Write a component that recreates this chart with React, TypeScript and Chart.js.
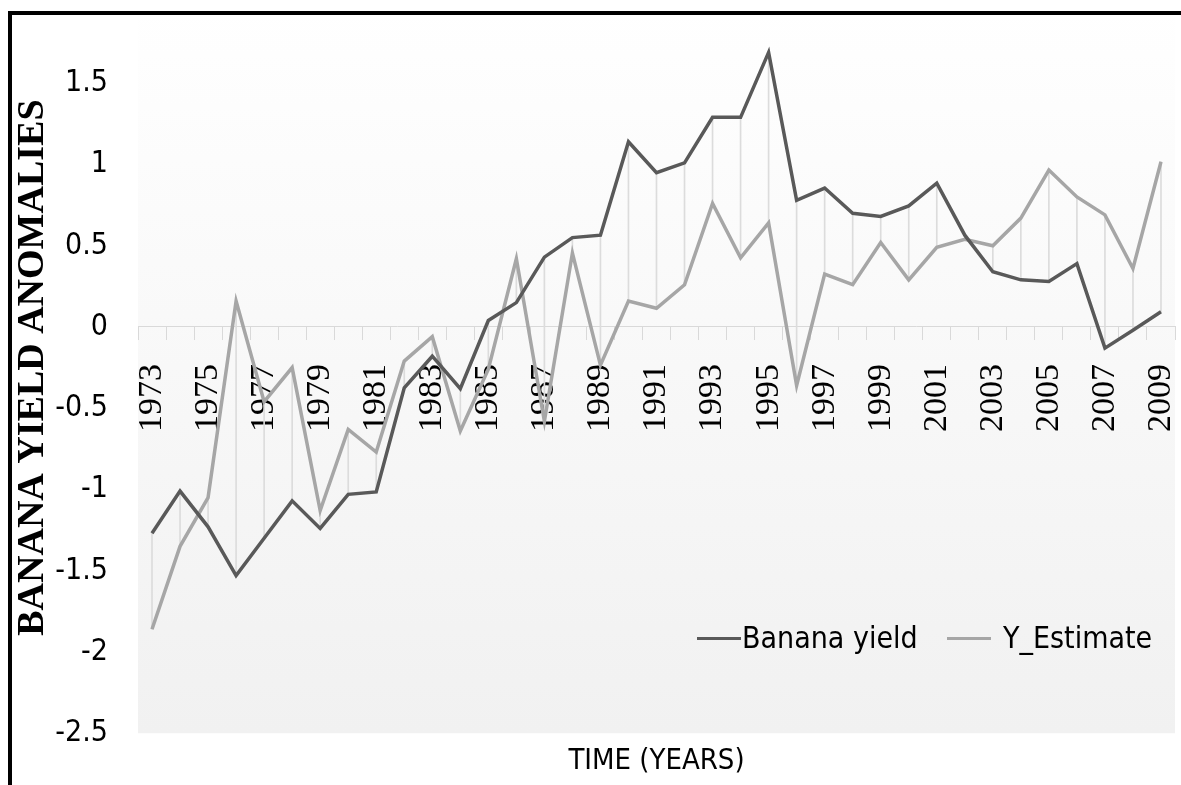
import React, { useEffect, useRef } from 'react';
import { Chart, registerables } from 'chart.js';

Chart.register(...registerables);

const years = [
  '1973', '1974', '1975', '1976', '1977', '1978', '1979', '1980', '1981', '1982',
  '1983', '1984', '1985', '1986', '1987', '1988', '1989', '1990', '1991', '1992',
  '1993', '1994', '1995', '1996', '1997', '1998', '1999', '2000', '2001', '2002',
  '2003', '2004', '2005', '2006', '2007', '2008', '2009',
];

const bananaYield = [
  -1.27, -1.01, -1.23, -1.53, -1.3, -1.07, -1.24, -1.03, -1.015, -0.375,
  -0.18, -0.38, 0.04, 0.15, 0.43, 0.55, 0.565, 1.14, 0.95, 1.01,
  1.29, 1.29, 1.69, 0.78, 0.855, 0.7, 0.68, 0.745, 0.885, 0.565,
  0.34, 0.29, 0.28, 0.39, -0.13, -0.02, 0.094,
];

const yEstimate = [
  -1.86, -1.35, -1.05, 0.16, -0.46, -0.25, -1.13, -0.63, -0.77, -0.21,
  -0.06, -0.64, -0.26, 0.42, -0.58, 0.455, -0.235, 0.16, 0.115, 0.26,
  0.76, 0.425, 0.64, -0.36, 0.325, 0.26, 0.52, 0.29, 0.49, 0.54,
  0.5, 0.67, 0.966, 0.8, 0.69, 0.36, 1.017,
];

const yTickLabels = ['-2.5', '-2', '-1.5', '-1', '-0.5', '0', '0.5', '1', '1.5', '2'];

const seriesNames = ['Banana yield', 'Y_Estimate'];
const yAxisTitle = 'BANANA YIELD ANOMALIES';
const xAxisTitle = 'TIME (YEARS)';

const DARK = '#595959';
const LIGHT = '#a6a6a6';
const HILO = '#dcdcdc';
const AXIS = '#d9d9d9';
const SANS = '"Liberation Sans Narrow", "Arial Narrow", "DejaVu Sans Condensed", sans-serif';
const SERIF = '"Liberation Serif", "Times New Roman", serif';

const plotBackground = {
  id: 'plotBackground',
  beforeDraw(chart: any) {
    const { ctx, chartArea: a } = chart;
    if (!a) return;
    const g = ctx.createLinearGradient(0, a.top, 0, a.bottom);
    g.addColorStop(0, '#ffffff');
    g.addColorStop(1, '#f1f1f1');
    ctx.save();
    ctx.fillStyle = g;
    ctx.fillRect(a.left, a.top, a.right - a.left, a.bottom - a.top);
    ctx.restore();
  },
};

export default function App() {
  const canvasRef = useRef<HTMLCanvasElement | null>(null);

  useEffect(() => {
    const canvas = canvasRef.current;
    if (!canvas) return;
    const hiLo = years.map((_, i) => [
      Math.min(bananaYield[i], yEstimate[i]),
      Math.max(bananaYield[i], yEstimate[i]),
    ]);
    const chart = new Chart(canvas, {
      type: 'line',
      data: {
        labels: years,
        datasets: [
          {
            type: 'line',
            label: seriesNames[0],
            data: bananaYield,
            borderColor: DARK,
            backgroundColor: DARK,
            borderWidth: 3.5,
            pointRadius: 0,
            tension: 0,
            order: 1,
          },
          {
            type: 'line',
            label: seriesNames[1],
            data: yEstimate,
            borderColor: LIGHT,
            backgroundColor: LIGHT,
            borderWidth: 3.5,
            pointRadius: 0,
            tension: 0,
            order: 2,
          },
          {
            type: 'bar',
            label: 'hilo',
            data: hiLo as any,
            backgroundColor: HILO,
            borderWidth: 0,
            barThickness: 1,
            order: 3,
          } as any,
        ],
      },
      options: {
        responsive: false,
        animation: false,
        events: [],
        layout: { padding: { top: 32, left: 10, right: 6, bottom: 0 } },
        plugins: {
          legend: { display: false },
          tooltip: { enabled: false },
          title: {
            display: true,
            text: xAxisTitle,
            position: 'bottom',
            fullSize: false,
            color: '#000',
            font: { family: SANS, size: 29, weight: 'normal', lineHeight: 1.2 },
            padding: { top: 11, bottom: 6 },
          },
        },
        scales: {
          x: {
            type: 'category',
            position: { y: 0 } as any,
            offset: true,
            grid: {
              display: true,
              offset: true,
              drawOnChartArea: false,
              drawTicks: true,
              tickLength: 13,
              color: AXIS,
            },
            border: { display: true, color: AXIS, width: 1 },
            ticks: {
              autoSkip: false,
              maxRotation: 90,
              minRotation: 90,
              padding: 24,
              color: '#000',
              font: { family: SERIF, size: 34 },
              callback: (_v: any, i: number) => (i % 2 === 0 ? years[i] : ''),
            },
            afterFit: (s: any) => {
              s.paddingLeft = 0;
              s.paddingRight = 0;
              s.paddingTop = 0;
              s.paddingBottom = 0;
            },
          } as any,
          y: {
            min: -2.5,
            max: 2,
            grid: { display: false, drawTicks: false },
            border: { display: false },
            ticks: {
              stepSize: 0.5,
              padding: 30,
              color: '#000',
              font: { family: SANS, size: 30 },
              callback: (_v: any, i: number) => yTickLabels[i],
            },
            title: {
              display: true,
              text: yAxisTitle,
              color: '#000',
              font: { family: SERIF, size: 38, weight: 'bold' },
              padding: { top: 0, bottom: 0 },
            },
            afterFit: (s: any) => {
              s.width = 128;
              s.paddingTop = 0;
              s.paddingBottom = 0;
            },
          } as any,
        },
      },
      plugins: [plotBackground],
    });
    return () => chart.destroy();
  }, []);

  const legendText: React.CSSProperties = {
    position: 'absolute',
    top: 620,
    font: `30px ${SANS}`,
    color: '#000',
    lineHeight: '36px',
    whiteSpace: 'nowrap',
  };
  const legendLine: React.CSSProperties = {
    position: 'absolute',
    top: 637,
    height: 3,
    width: 44,
  };

  return (
    <div
      style={{
        position: 'absolute',
        left: 0,
        top: 0,
        width: 1181,
        height: 785,
        overflow: 'hidden',
        background: '#fff',
      }}
    >
      <canvas
        ref={canvasRef}
        width={1181}
        height={815}
        style={{ position: 'absolute', left: 0, top: -30, width: 1181, height: 815, display: 'block' }}
      />
      <div style={{ ...legendLine, left: 697, background: DARK }} />
      <div style={{ ...legendText, left: 742 }}>{seriesNames[0]}</div>
      <div style={{ ...legendLine, left: 947, background: LIGHT }} />
      <div style={{ ...legendText, left: 1003 }}>{seriesNames[1]}</div>
      <div style={{ position: 'absolute', left: 0, top: 0, width: 1181, height: 11, background: '#fff' }} />
      <div
        style={{
          position: 'absolute',
          left: 8,
          top: 11,
          width: 1200,
          height: 800,
          borderTop: '4px solid #000',
          borderLeft: '4px solid #000',
        }}
      />
    </div>
  );
}
